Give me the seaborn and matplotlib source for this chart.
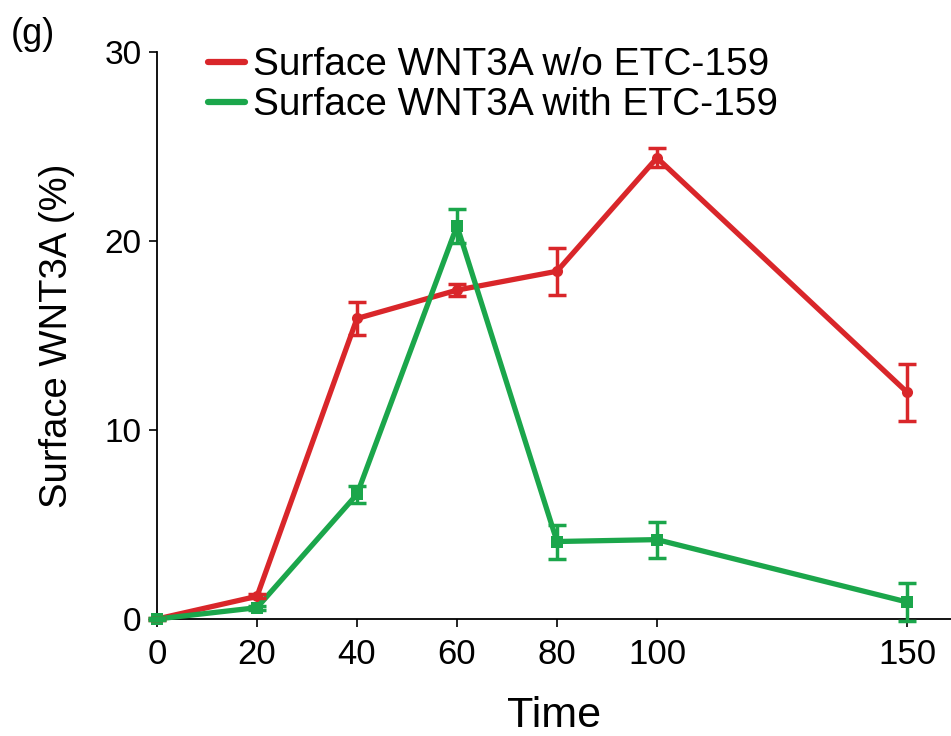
import matplotlib
matplotlib.use("Agg")
import matplotlib.pyplot as plt
import seaborn as sns
import pandas as pd

time = [0, 20, 40, 60, 80, 100, 150]
wo_mean = [0.0, 1.2, 15.9, 17.4, 18.4, 24.4, 12.0]
wo_err = [0.05, 0.1, 0.85, 0.3, 1.25, 0.5, 1.5]
with_mean = [0.0, 0.6, 6.6, 20.8, 4.1, 4.2, 0.9]
with_err = [0.05, 0.1, 0.45, 0.9, 0.9, 0.95, 1.0]
labels = ["Surface WNT3A w/o ETC-159", "Surface WNT3A with ETC-159"]
xticks = [0, 20, 40, 60, 80, 100, 150]
yticks = [0, 10, 20, 30]

RED = "#d9262a"
GREEN = "#1ba64b"

sns.set_style("ticks")
plt.rcParams["font.family"] = ["Liberation Sans", "DejaVu Sans"]
plt.rcParams["text.color"] = "black"
plt.rcParams["axes.labelcolor"] = "black"
plt.rcParams["xtick.color"] = "black"
plt.rcParams["ytick.color"] = "black"

fig = plt.figure(figsize=(9.51, 7.36), dpi=100)
ax = fig.add_axes([157/951, (736-619)/736, 1 - 157/951, (619-52)/736])

df = pd.DataFrame({
    "Time": time * 2,
    "val": wo_mean + with_mean,
    "series": [labels[0]] * len(time) + [labels[1]] * len(time),
})

sns.lineplot(data=df, x="Time", y="val", hue="series", style="series",
             palette=[RED, GREEN], markers=["o", "s"], dashes=False,
             linewidth=3.8, markersize=8, markeredgewidth=0, ax=ax,
             clip_on=False, zorder=3)

for m, e, c in [(wo_mean, wo_err, RED), (with_mean, with_err, GREEN)]:
    ax.errorbar(time, m, yerr=e, fmt="none", ecolor=c, elinewidth=2.5,
                capsize=6.5, capthick=2.5, clip_on=False, zorder=4)

ax.set_xlim(0, 158.8)
ax.set_ylim(0, 30)
ax.set_xticks(xticks)
ax.set_yticks(yticks)
ax.tick_params(axis="both", length=6, width=1.2, color="black",
               direction="out")
ax.tick_params(axis="x", labelsize=25, pad=8)
ax.tick_params(axis="y", labelsize=24, pad=5)
for s in ["top", "right"]:
    ax.spines[s].set_visible(False)
for s in ["left", "bottom"]:
    ax.spines[s].set_linewidth(1.3)
    ax.spines[s].set_color("black")

ax.set_xlabel("Time", fontsize=31, labelpad=18)
ax.set_ylabel("Surface WNT3A (%)", fontsize=27.5, labelpad=21)

leg = ax.legend(loc="upper left", bbox_to_anchor=(0.064, 1.008), frameon=False,
                fontsize=28, handlelength=0.95, handletextpad=0.2,
                labelspacing=0.1, borderaxespad=0, borderpad=0)
for h in leg.get_lines():
    h.set_marker("")
    h.set_linewidth(4.5)

fig.text(11/951, 1 - 44/736, "(g)", fontsize=26, ha="left", va="baseline")

fig.savefig("out.png", dpi=100)
